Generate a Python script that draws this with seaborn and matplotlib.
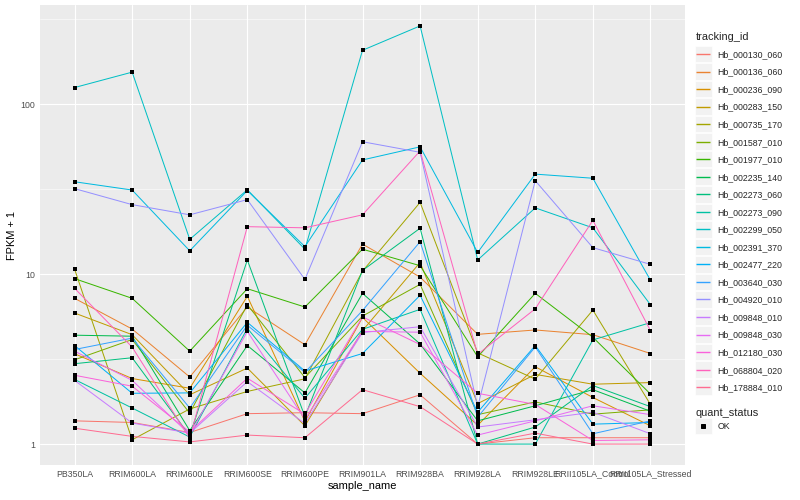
import numpy as np
import pandas as pd
import seaborn as sns
import matplotlib
matplotlib.use("Agg")
import matplotlib.pyplot as plt
from matplotlib.lines import Line2D
from matplotlib.patches import Rectangle
from matplotlib.ticker import FixedLocator, NullFormatter

samples = ["PB350LA", "RRIM600LA", "RRIM600LE", "RRIM600SE", "RRIM600PE", "RRIM901LA",
           "RRIM928BA", "RRIM928LA", "RRIM928LE", "RRII105LA_Control", "RRII105LA_Stressed"]

tracking_ids = ["Hb_000130_060", "Hb_000136_060", "Hb_000236_090", "Hb_000283_150",
                "Hb_000735_170", "Hb_001587_010", "Hb_001977_010", "Hb_002235_140",
                "Hb_002273_060", "Hb_002273_090", "Hb_002299_050", "Hb_002391_370",
                "Hb_002477_220", "Hb_003640_030", "Hb_004920_010", "Hb_009848_010",
                "Hb_009848_030", "Hb_012180_030", "Hb_068804_020", "Hb_178884_010"]

# FPKM + 1 per gene, one value per sample
hb_000130_060 = [1.37, 1.34, 1.17, 1.51, 1.53, 1.51, 1.95, 1.00, 1.09, 1.09, 1.09]
hb_000136_060 = [7.2, 4.75, 2.48, 6.4, 3.84, 15.0, 9.6, 4.42, 4.69, 4.40, 3.41]
hb_000236_090 = [3.40, 2.43, 2.13, 7.4, 1.36, 5.56, 2.61, 1.29, 2.85, 1.88, 1.28]
hb_000283_150 = [5.9, 4.4, 1.95, 2.8, 1.28, 4.65, 11.7, 1.73, 2.57, 2.25, 2.30]
hb_000735_170 = [10.7, 1.06, 1.61, 2.04, 2.42, 10.4, 26.4, 3.44, 2.41, 6.14, 1.71]
hb_001587_010 = [3.13, 4.12, 1.52, 6.6, 2.46, 5.66, 8.7, 1.49, 1.77, 1.50, 1.59]
hb_001977_010 = [9.4, 7.2, 3.52, 8.2, 6.4, 14.0, 11.2, 3.26, 7.7, 4.25, 1.97]
hb_002235_140 = [4.37, 4.31, 1.20, 3.8, 2.00, 7.7, 3.88, 1.37, 1.68, 2.09, 1.56]
hb_002273_060 = [2.97, 3.22, 1.12, 12.1, 1.45, 10.5, 18.6, 1.00, 1.26, 2.21, 1.66]
hb_002273_090 = [2.40, 1.63, 1.10, 4.8, 1.86, 4.73, 6.2, 1.00, 1.00, 4.10, 5.18]
hb_002299_050 = [125, 154, 16.0, 31.3, 14.0, 207, 288, 12.1, 24.5, 18.7, 6.6]
hb_002391_370 = [34.9, 31.2, 13.7, 31.0, 14.5, 46.9, 56, 13.4, 38.7, 36.6, 9.2]
hb_002477_220 = [3.80, 1.99, 2.00, 5.2, 2.69, 3.41, 7.5, 1.54, 3.80, 1.31, 1.34]
hb_003640_030 = [3.60, 4.20, 1.63, 5.0, 2.64, 6.1, 15.5, 1.44, 3.73, 1.15, 1.37]
hb_004920_010 = [31.8, 25.6, 22.3, 27.4, 9.3, 60, 52, 1.66, 35.4, 14.3, 11.4]
hb_009848_010 = [2.37, 1.33, 1.16, 2.33, 1.32, 4.53, 4.9, 1.26, 1.39, 1.54, 1.15]
hb_009848_030 = [3.52, 2.37, 1.14, 4.6, 1.40, 4.6, 4.55, 1.13, 1.37, 1.68, 1.49]
hb_012180_030 = [2.54, 2.19, 1.18, 2.44, 1.50, 5.6, 3.85, 1.99, 1.71, 1.05, 1.06]
hb_068804_020 = [8.25, 3.72, 1.08, 19.0, 18.7, 22.3, 53, 3.37, 6.25, 20.7, 4.65]
hb_178884_010 = [1.24, 1.11, 1.03, 1.13, 1.09, 2.09, 1.66, 1.00, 1.16, 1.00, 1.00]

series = [hb_000130_060, hb_000136_060, hb_000236_090, hb_000283_150, hb_000735_170,
          hb_001587_010, hb_001977_010, hb_002235_140, hb_002273_060, hb_002273_090,
          hb_002299_050, hb_002391_370, hb_002477_220, hb_003640_030, hb_004920_010,
          hb_009848_010, hb_009848_030, hb_012180_030, hb_068804_020, hb_178884_010]

# ggplot2 default hue palette for 20 levels
colors = ["#F8766D", "#EA8331", "#D89000", "#C09B00", "#A3A500", "#7CAE00", "#39B600",
          "#00BB4E", "#00BF7D", "#00C1A3", "#00BFC4", "#00BAE0", "#00B0F6", "#35A2FF",
          "#9590FF", "#C77CFF", "#E76BF3", "#FA62DB", "#FF62BC", "#FF6C91"]

rows = []
for tid, vals in zip(tracking_ids, series):
    for s, v in zip(samples, vals):
        rows.append({"tracking_id": tid, "sample_name": s, "fpkm": v, "quant_status": "OK"})
df = pd.DataFrame(rows)
df["x"] = df["sample_name"].map({s: i for i, s in enumerate(samples)})

sns.set_theme(style="darkgrid")
plt.rcParams["font.family"] = ["Liberation Sans", "DejaVu Sans"]

fig = plt.figure(figsize=(800 / 72, 500 / 72), dpi=72)
ax = fig.add_axes([40 / 800, 35 / 500, 645 / 800, 460 / 500])
ax.set_facecolor("#EBEBEB")

sns.lineplot(data=df, x="x", y="fpkm", hue="tracking_id", palette=colors,
             estimator=None, linewidth=1.0, legend=False, ax=ax)
sns.scatterplot(data=df, x="x", y="fpkm", color="black", marker="s", s=10,
                linewidth=0, legend=False, ax=ax, zorder=3)

ax.set_yscale("log")
lo, hi = np.log10(df["fpkm"].min()), np.log10(df["fpkm"].max())
pad = 0.05 * (hi - lo)
ax.set_ylim(10 ** (lo - pad), 10 ** (hi + pad))
ax.set_xlim(-0.6, len(samples) - 0.4)

ax.set_yticks([1, 10, 100])
ax.set_yticklabels(["1", "10", "100"])
ax.yaxis.set_minor_locator(FixedLocator([10 ** 0.5, 10 ** 1.5, 10 ** 2.5]))
ax.yaxis.set_minor_formatter(NullFormatter())
ax.set_xticks(range(len(samples)))
ax.set_xticklabels(samples)

ax.grid(which="major", color="white", linewidth=1.1)
ax.grid(which="minor", axis="y", color="white", linewidth=0.55)
ax.set_axisbelow(True)
for sp in ax.spines.values():
    sp.set_visible(False)
ax.tick_params(which="major", length=2.7, width=0.8, color="#333333",
               labelcolor="#4D4D4D", labelsize=8.8, pad=2)
ax.tick_params(which="minor", length=0)

ax.set_xlabel("sample_name", fontsize=11, color="black", labelpad=2)
ax.set_ylabel("FPKM + 1", fontsize=11, color="black", labelpad=4)

handles = [Line2D([0], [0], color=c, lw=1.4, solid_capstyle="butt") for c in colors]
leg1 = fig.legend(handles, tracking_ids, title="tracking_id", loc="upper left",
                  bbox_to_anchor=(692 / 800, 1 - 28 / 500), frameon=False,
                  fontsize=8.8, title_fontsize=11, handlelength=1.7,
                  labelspacing=0.97, alignment="left", borderaxespad=0)
ok_handle = [Line2D([], [], marker="s", color="black", ls="none", markersize=3.2)]
leg2 = fig.legend(ok_handle, ["OK"], title="quant_status", loc="upper left",
                  bbox_to_anchor=(692 / 800, 1 - 404 / 500), frameon=False,
                  fontsize=8.8, title_fontsize=11, handlelength=1.7,
                  alignment="left", borderaxespad=0)

# grey key backgrounds like ggplot legend keys
fig.canvas.draw()
inv = fig.transFigure.inverted()
for leg in (leg1, leg2):
    for h in leg.legend_handles:
        bb = h.get_window_extent()
        cx, cy = (bb.x0 + bb.x1) / 2, (bb.y0 + bb.y1) / 2
        (x0, y0) = inv.transform((cx - 8.5, cy - 8.3))
        (x1, y1) = inv.transform((cx + 8.5, cy + 8.3))
        fig.patches.append(Rectangle((x0, y0), x1 - x0, y1 - y0, transform=fig.transFigure,
                                     facecolor="#F2F2F2", edgecolor="white", lw=0.6, zorder=-1))

fig.savefig("out.png", dpi=72)
